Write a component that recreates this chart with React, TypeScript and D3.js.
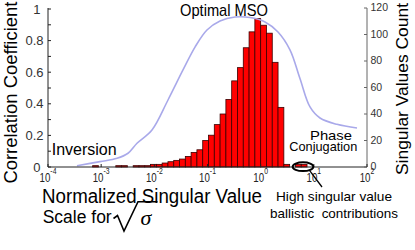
import React from "react";
import * as d3 from "d3";

const W = 415;
const H = 250;

// ---- data ----
const xTickExponents = [-4, -3, -2, -1, 0, 1, 2];
const leftTicks = [0, 0.2, 0.4, 0.6, 0.8, 1];
const leftMinorTicks = [0.1, 0.3, 0.5, 0.7, 0.9];
const rightTicks = [0, 20, 40, 60, 80, 100, 120];

// histogram: bins in log10 space
const binWidthLog = 0.109;
const firstBinLog = -29 * 0.109;
const binCounts = [
  1, 0, 0, 0, 1, 1, 0, 1, 1, 1, 2, 2, 3, 4, 5, 6, 8, 11, 13, 20, 24, 32, 40, 51,
  65, 75, 90, 102, 112, 107, 101, 79, 45, 2, 0, 2, 2,
];

// correlation coefficient curve
const corrLog10 = [
  -3.455, -3.022, -2.702, -2.495, -2.326, -2.044, -1.743, -1.461, -1.235, -1.01,
  -0.765, -0.483, -0.201, 0.082, 0.326, 0.551, 0.739, 0.928, 1.116, 1.435, 1.812,
];
const corrValues = [
  0.008, 0.034, 0.055, 0.087, 0.15, 0.234, 0.424, 0.614, 0.759, 0.867, 0.924,
  0.949, 0.946, 0.918, 0.854, 0.741, 0.56, 0.38, 0.31, 0.27, 0.247,
];

const SANS = "'Liberation Sans', Arial, Helvetica, sans-serif";

export default function App() {
  const x = d3.scaleLog().domain([1e-4, 1e2]).range([48, 367]);
  const yL = d3.scaleLinear().domain([0, 1]).range([167, 9]);
  const yR = d3.scaleLinear().domain([0, 120]).range([167, 8]);

  const bars = binCounts
    .map((c, i) => {
      const l = Math.pow(10, firstBinLog + i * binWidthLog);
      const r = Math.pow(10, firstBinLog + (i + 1) * binWidthLog);
      return { c, x0: x(l), x1: x(r) };
    })
    .filter((b) => b.c > 0);

  const line = d3
    .line<number>()
    .x((_, i) => x(Math.pow(10, corrLog10[i])))
    .y((v) => yL(v))
    .curve(d3.curveCatmullRom.alpha(0.5));

  const x0 = x(1e-4);
  const x1 = x(1e2);
  const yb = yL(0);
  const yt = yR(120);

  return (
    <svg
      width={W}
      height={H}
      viewBox={`0 0 ${W} ${H}`}
      style={{ position: "absolute", left: 0, top: 0, background: "#fff" }}
      fontFamily={SANS}
    >
      <rect x={0} y={0} width={W} height={H} fill="#fff" />

      {/* histogram bars */}
      {bars.map((b, i) => (
        <rect
          key={i}
          x={b.x0}
          y={yR(b.c)}
          width={b.x1 - b.x0}
          height={yR(0) - yR(b.c)}
          fill="#ff0000"
          stroke="#3a0000"
          strokeWidth={0.8}
        />
      ))}

      {/* correlation curve */}
      <path
        d={line(corrValues) || ""}
        fill="none"
        stroke="#a9a9ea"
        strokeWidth={1.6}
      />

      {/* axes lines */}
      <line x1={x0} y1={yt} x2={x0} y2={yb} stroke="#222" strokeWidth={1} />
      <line x1={x0} y1={yb} x2={x1} y2={yb} stroke="#222" strokeWidth={1} />
      <line x1={x1} y1={yt} x2={x1} y2={yb} stroke="#666" strokeWidth={1} />

      {/* left ticks */}
      {leftTicks.concat(leftMinorTicks).map((t) => (
        <line key={"lt" + t} x1={x0} x2={x0 + 3} y1={yL(t)} y2={yL(t)} stroke="#222" />
      ))}
      {leftTicks.map((t) => (
        <text
          key={"ll" + t}
          x={Number.isInteger(t) ? 40.5 : 43.5}
          y={yL(t)}
          dy="0.35em"
          textAnchor="end"
          fontSize={13}
          fill="#333"
        >
          {String(t)}
        </text>
      ))}

      {/* right ticks */}
      {rightTicks.map((t) => (
        <g key={"r" + t}>
          <line x1={x1 - 3} x2={x1} y1={yR(t)} y2={yR(t)} stroke="#666" />
          <text x={370.5} y={yR(t)} dy="0.3em" fontSize={10.5} fill="#333">
            {t}
          </text>
        </g>
      ))}

      {/* bottom ticks */}
      {xTickExponents.map((e) => {
        const px = x(Math.pow(10, e));
        return (
          <g key={"b" + e}>
            <line x1={px} x2={px} y1={yb} y2={yb - 3} stroke="#222" />
            <g transform={`translate(${px},181.7) scale(0.72,1)`}>
              <text x={0} y={0} textAnchor="middle" fontSize={13.5} fill="#222">
                <tspan>10</tspan>
                <tspan dy={-7.5} fontSize={9.5}>
                  {String(e)}
                </tspan>
              </text>
            </g>
          </g>
        );
      })}

      {/* axis titles */}
      <text
        transform={`translate(16.5,92.6) rotate(-90)`}
        textAnchor="middle"
        fontSize={18}
        textLength={182}
        lengthAdjust="spacingAndGlyphs"
        fill="#000"
      >
        Correlation Coefficient
      </text>
      <text
        transform={`translate(408,89) rotate(-90)`}
        textAnchor="middle"
        fontSize={16}
        textLength={172}
        lengthAdjust="spacingAndGlyphs"
        fill="#000"
      >
        Singular Values Count
      </text>
      <text
        x={42}
        y={203}
        fontSize={19.5}
        textLength={220}
        lengthAdjust="spacingAndGlyphs"
        fill="#000"
      >
        Normalized Singular Value
      </text>
      <text
        x={42.7}
        y={223.3}
        fontSize={17.5}
        textLength={69}
        lengthAdjust="spacingAndGlyphs"
        fill="#000"
      >
        Scale for
      </text>
      {/* radical sign */}
      <path
        d="M113.5,218.5 L117.5,215.5 L124,231 L138,201.7 L157.5,201.7"
        fill="none"
        stroke="#000"
        strokeWidth={1.6}
        strokeLinejoin="miter"
      />
      <text
        x={140.5}
        y={224.5}
        fontSize={22}
        fontStyle="italic"
        fontFamily="'Liberation Serif', 'Times New Roman', serif"
        fill="#000"
      >
        σ
      </text>

      {/* annotations */}
      <text
        x={180}
        y={16}
        fontSize={17}
        textLength={88}
        lengthAdjust="spacingAndGlyphs"
        fill="#000"
      >
        Optimal MSO
      </text>
      <text
        x={51.7}
        y={154.5}
        fontSize={16}
        textLength={65}
        lengthAdjust="spacingAndGlyphs"
        fill="#000"
      >
        Inversion
      </text>
      <text
        x={310}
        y={139.5}
        fontSize={13.5}
        textLength={42}
        lengthAdjust="spacingAndGlyphs"
        fill="#000"
      >
        Phase
      </text>
      <text
        x={289.3}
        y={150.7}
        fontSize={13.5}
        textLength={68}
        lengthAdjust="spacingAndGlyphs"
        fill="#000"
      >
        Conjugation
      </text>
      <ellipse
        cx={303}
        cy={166.7}
        rx={10.3}
        ry={4.4}
        fill="none"
        stroke="#000"
        strokeWidth={2}
      />
      <line x1={309.5} y1={170.4} x2={322} y2={187} stroke="#000" strokeWidth={1.3} />
      <text
        x={276}
        y={201.3}
        fontSize={13.5}
        textLength={116}
        lengthAdjust="spacingAndGlyphs"
        fill="#000"
      >
        High singular value
      </text>
      <text
        x={270}
        y={218}
        fontSize={13.5}
        textLength={128}
        lengthAdjust="spacingAndGlyphs"
        fill="#000"
        style={{ whiteSpace: "pre" }}
      >
        {"ballistic  contributions"}
      </text>
    </svg>
  );
}
